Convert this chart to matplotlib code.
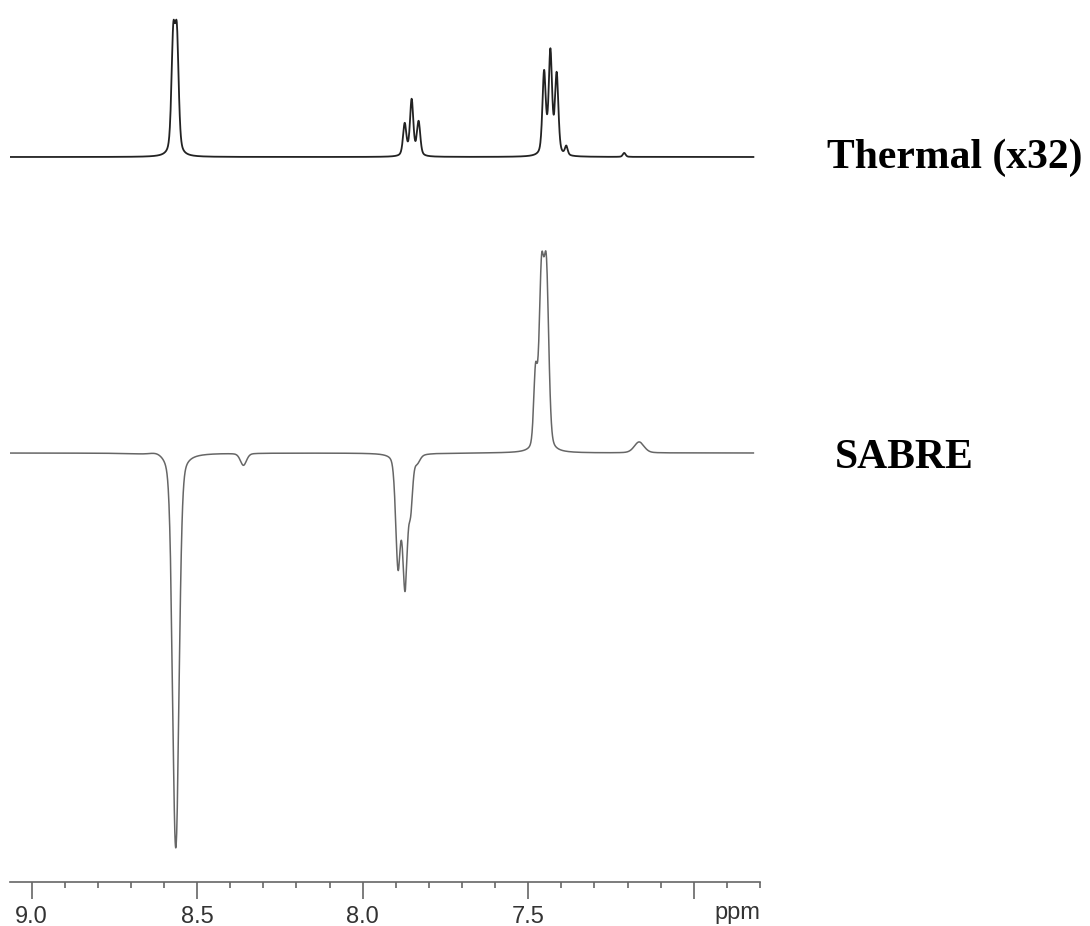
import matplotlib
matplotlib.use("Agg")
import matplotlib.pyplot as plt
import numpy as np

# peak lists: position (ppm), height, width (ppm)
thermal_ppm = [8.572, 8.561, 7.873, 7.852, 7.831, 7.452, 7.433, 7.414, 7.385, 7.21]
thermal_height = [112, 112, 32, 56, 34, 82, 102, 80, 9, 4]
thermal_width = [0.013, 0.013, 0.012, 0.012, 0.012, 0.012, 0.012, 0.012, 0.01, 0.01]

sabre_ppm = [8.62, 8.568, 8.560, 8.36, 7.893, 7.872, 7.855, 7.835, 7.478, 7.460, 7.445, 7.165]
sabre_height = [3, -238, -208, -12, -110, -130, -48, -7, 72, 168, 170, 11]
sabre_width = [0.05, 0.02, 0.02, 0.022, 0.017, 0.017, 0.014, 0.02, 0.013, 0.017, 0.017, 0.035]

tick_ppm = [9.0, 8.5, 8.0, 7.5]
tick_labels = ["9.0", "8.5", "8.0", "7.5"]


def spectrum(x, centers, heights, widths, eta=0.35):
    y = np.zeros_like(x)
    for c, h, w in zip(centers, heights, widths):
        lor = 1.0 / (1.0 + ((x - c) / (w / 2)) ** 2)
        gau = np.exp(-4 * np.log(2) * ((x - c) / w) ** 2)
        y += h * (eta * lor + (1 - eta) * gau)
    return y


x = np.linspace(6.82, 9.065, 6000)
thermal = spectrum(x, thermal_ppm, thermal_height, thermal_width, eta=0.45)
sabre = spectrum(x, sabre_ppm, sabre_height, sabre_width, eta=0.3)

W, H = 1090, 926
fig = plt.figure(figsize=(W / 100, H / 100), dpi=100, facecolor="w")
ax = fig.add_axes([10 / W, 44 / H, 750 / W, 882 / H])

# offsets in pixel-like units above the axis line
ax.plot(x, thermal + 725, color="#222222", lw=1.3)
ax.plot(x, sabre + 429, color="#666666", lw=1.1)

ax.set_xlim(9.065, 6.8)
ax.set_ylim(0, 882)
for s in ["top", "left", "right"]:
    ax.spines[s].set_visible(False)
ax.spines["bottom"].set_color("#666666")
ax.spines["bottom"].set_linewidth(1.2)
ax.set_yticks([])
ax.set_xticks(tick_ppm + [7.0])
ax.set_xticklabels(tick_labels + [""])
ax.set_xticks(np.arange(6.8, 9.05, 0.1), minor=True)
ax.tick_params(axis="x", which="major", length=12, width=1.2, color="#666666",
               labelsize=17, labelcolor="#333333", pad=5)
ax.tick_params(axis="x", which="minor", length=4, width=1.2, color="#666666")
for lab in ax.get_xticklabels():
    lab.set_fontfamily("Liberation Sans")
ax.text(6.8, -20, "ppm", ha="right", va="top", fontsize=17, color="#333333",
        family="Liberation Sans")

fig.text(955 / W, 1 - 158 / H, "Thermal (x32)", ha="center", va="center",
         fontsize=30, fontweight="bold", family="Liberation Serif")
fig.text(835 / W, 1 - 458 / H, "SABRE", ha="left", va="center",
         fontsize=30, fontweight="bold", family="Liberation Serif")

fig.savefig("out.png", dpi=100, facecolor="w")
